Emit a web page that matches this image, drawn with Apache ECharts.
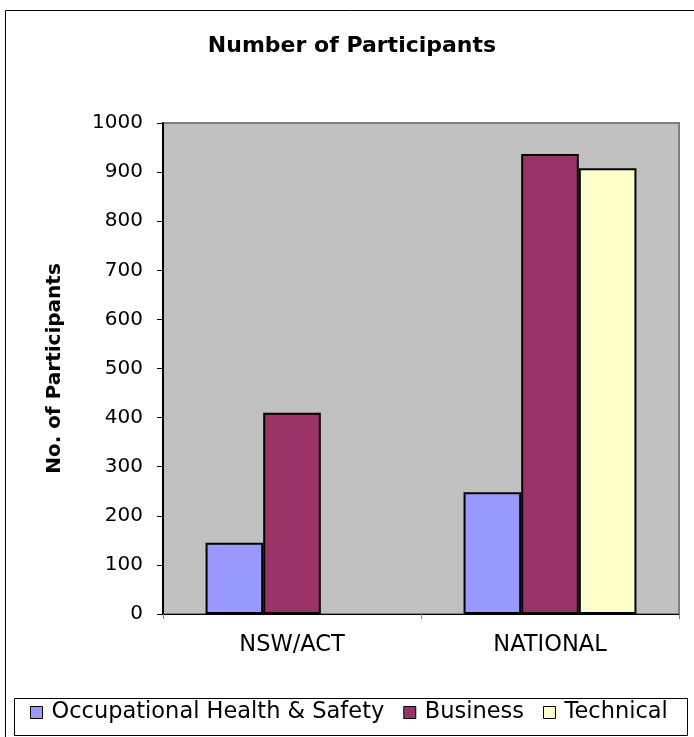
<!DOCTYPE html>
<html>
<head>
<meta charset="utf-8">
<script src="https://cdn.jsdelivr.net/npm/echarts@6/dist/echarts.min.js"></script>
<style>
  html, body { margin: 0; padding: 0; background: #ffffff; }
  #chart { width: 694px; height: 737px; }
</style>
</head>
<body>
<div id="chart"></div>
<script>
// Regions and participant counts per course type
const categories = ['NSW/ACT', 'NATIONAL'];
const ohsValues = [145, 248];
const businessValues = [410, 937];
const technicalValues = [null, 908];
const yTicks = { min: 0, max: 1000, interval: 100 };

const FONT = '"DejaVu Sans", "Liberation Sans", Arial, sans-serif';
const chart = echarts.init(document.getElementById('chart'), null, { renderer: 'canvas' });

const barBorder = { borderColor: '#000000', borderWidth: 2 };

chart.setOption({
  animation: false,
  backgroundColor: '#ffffff',
  title: {
    text: 'Number of Participants',
    left: 347,
    textAlign: 'center',
    top: 30,
    textStyle: { fontFamily: FONT, fontSize: 22, fontWeight: 'bold', color: '#000000' }
  },
  graphic: [
    {
      type: 'rect',
      shape: { x: 5.5, y: 10.5, width: 700, height: 740 },
      style: { fill: 'none', stroke: '#000000', lineWidth: 1 },
      silent: true, z: -10
    },
    {
      type: 'rect',
      shape: { x: 14.5, y: 698.5, width: 673, height: 37 },
      style: { fill: '#ffffff', stroke: '#000000', lineWidth: 1 },
      silent: true, z: -5
    }
  ],
  legend: {
    left: 30,
    top: 701,
    padding: 0,
    itemWidth: 12,
    itemHeight: 12,
    itemGap: 19,
    icon: 'rect',
    textStyle: { fontFamily: FONT, fontSize: 22.5, color: '#000000', padding: [0, 0, 0, 4] },
    itemStyle: { borderColor: '#000000', borderWidth: 1 },
    data: ['Occupational Health & Safety', 'Business', 'Technical']
  },
  grid: {
    left: 163,
    right: 15,
    top: 123,
    bottom: 123,
    show: true,
    backgroundColor: '#c0c0c0',
    borderColor: '#808080',
    borderWidth: 2
  },
  xAxis: {
    type: 'category',
    data: categories,
    axisLine: { show: true, lineStyle: { color: '#000000', width: 1 } },
    axisTick: { show: true, length: 5, lineStyle: { color: '#808080' } },
    axisLabel: { fontFamily: FONT, fontSize: 22.5, color: '#000000', margin: 20 }
  },
  yAxis: {
    type: 'value',
    min: yTicks.min,
    max: yTicks.max,
    interval: yTicks.interval,
    name: 'No. of Participants',
    nameLocation: 'middle',
    nameGap: 98,
    nameTextStyle: { fontFamily: FONT, fontSize: 20, fontWeight: 'bold', color: '#000000' },
    axisLine: { show: true, lineStyle: { color: '#000000', width: 2 } },
    axisTick: { show: true, length: 6, lineStyle: { color: '#000000' } },
    axisLabel: {
      fontFamily: FONT, fontSize: 20, color: '#000000', margin: 20,
      formatter: (v) => String(v)
    },
    splitLine: { show: false }
  },
  series: [
    {
      name: 'Occupational Health & Safety',
      type: 'bar',
      data: ohsValues,
      barGap: '0%',
      barCategoryGap: '33%',
      itemStyle: Object.assign({ color: '#9999ff' }, barBorder)
    },
    {
      name: 'Business',
      type: 'bar',
      data: businessValues,
      itemStyle: Object.assign({ color: '#993366' }, barBorder)
    },
    {
      name: 'Technical',
      type: 'bar',
      data: technicalValues,
      itemStyle: Object.assign({ color: '#ffffcc' }, barBorder)
    }
  ]
});
</script>
</body>
</html>
